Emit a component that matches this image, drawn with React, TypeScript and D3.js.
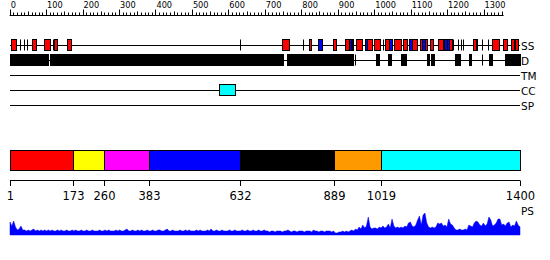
import React from "react";
import * as d3 from "d3";

const SEQ_LENGTH = 1400;
const RULER_LABELS = [0, 100, 200, 300, 400, 500, 600, 700, 800, 900, 1000, 1100, 1200, 1300];
const TRACK_NAMES = ["SS", "D", "TM", "CC", "SP"];

// secondary structure: helices (red), strands (blue), tiny elements (ticks)
const SS_HELIX: [number, number][] = [
  [4, 17], [60, 72], [95, 110], [122, 131], [156, 167],
  [748, 767], [822, 828], [888, 895], [921, 931], [950, 966], [981, 993],
  [1000, 1016], [1030, 1041], [1054, 1074], [1080, 1091], [1104, 1117],
  [1127, 1132], [1139, 1145], [1153, 1162], [1176, 1189], [1206, 1213],
  [1270, 1278], [1279, 1283], [1322, 1343], [1354, 1363], [1374, 1384], [1385, 1395],
];
const SS_STRAND: [number, number][] = [
  [845, 856], [931, 937], [938, 943], [975, 981], [1041, 1048], [1096, 1104],
  [1132, 1139], [1192, 1199], [1199, 1206],
];
const SS_TICKS = [28, 39, 48, 118, 632, 804, 1023, 1216, 1229, 1237, 1243, 1297, 1312];

const DISORDER: [number, number][] = [
  [1, 106], [111, 749], [760, 941], [1005, 1014], [1039, 1045], [1074, 1087],
  [1146, 1151], [1157, 1164], [1222, 1236], [1260, 1266], [1315, 1322],
  [1359, 1374], [1375, 1400],
];
const DISORDER_TICKS = [947, 1297];

const COILED_COIL: [number, number][] = [[575, 618]];

const DOMAIN_BOUNDS = [1, 173, 260, 383, 632, 889, 1019, 1400];
const DOMAIN_COLORS = ["#ff0000", "#ffff00", "#ff00ff", "#0000ff", "#000000", "#ff9900", "#00ffff"];

// PS profile, one value per 5 residues
const PS_VALUES = [
  13, 9, 14, 8, 5, 6, 9, 5, 5, 4, 5, 4, 5, 6, 4, 5, 4, 5, 4, 5,
  4, 5, 4, 5, 4, 4, 5, 4, 5, 4, 4, 5, 4, 4, 5, 4, 5, 4, 4, 5,
  4, 4, 5, 4, 4, 5, 4, 4, 4, 5, 4, 4, 5, 4, 5, 4, 4, 4, 5, 4,
  5, 4, 4, 5, 6, 4, 4, 5, 4, 4, 5, 4, 5, 4, 4, 5, 4, 4, 5, 4,
  4, 5, 5, 4, 4, 5, 6, 4, 4, 5, 4, 4, 4, 5, 4, 4, 5, 4, 5, 4,
  4, 4, 5, 4, 5, 4, 4, 4, 5, 4, 6, 4, 4, 5, 4, 4, 5, 4, 4, 4,
  5, 4, 4, 5, 4, 4, 4, 5, 4, 4, 5, 4, 4, 5, 4, 4, 5, 4, 4, 5,
  4, 4, 3, 4, 4, 3, 4, 4, 4, 3, 4, 4, 5, 4, 3, 4, 4, 3, 4, 4,
  4, 3, 4, 4, 4, 3, 5, 4, 4, 3, 4, 4, 3, 4, 4, 4, 3, 4, 2, 2,
  3, 3, 4, 3, 4, 3, 4, 5, 4, 6, 5, 8, 6, 10, 7, 9, 18, 8, 6, 7,
  7, 6, 8, 7, 9, 7, 8, 11, 7, 16, 9, 7, 8, 7, 8, 7, 9, 8, 12, 13,
  9, 8, 10, 15, 19, 10, 20, 22, 12, 8, 7, 8, 7, 8, 12, 11, 12, 9, 10, 8,
  16, 11, 10, 7, 5, 5, 6, 5, 5, 6, 5, 10, 9, 8, 12, 14, 13, 10, 9, 12,
  9, 11, 18, 15, 9, 10, 12, 16, 16, 10, 11, 9, 12, 13, 8, 10, 9, 14, 10, 8,
];

const FONT = "DejaVu Sans, Verdana, sans-serif";

export default function App() {
  const x = d3.scaleLinear().domain([1, SEQ_LENGTH]).range([10, 520]);
  const trackY = d3.scalePoint<string>().domain(TRACK_NAMES).range([45, 105]);
  const psY = d3.scaleLinear().domain([0, 25]).range([235, 210]);
  const psX = d3.scaleLinear().domain([0, PS_VALUES.length - 1]).range([x(1), x(SEQ_LENGTH)]);
  const area = d3
    .area<number>()
    .x((_, i) => psX(i))
    .y0(psY(0))
    .y1((d) => psY(d))
    .curve(d3.curveLinear);

  const minorTicks = d3.range(0, 1360, 10);
  const boxH = 11;

  const box = (s: number, e: number, track: string, fill: string, key: string) => {
    const x0 = Math.round(x(s)) + 0.5;
    const x1 = Math.round(x(e)) + 0.5;
    const y = trackY(track)!;
    return (
      <rect key={key} x={x0} y={y - boxH / 2} width={Math.max(1, x1 - x0)} height={boxH}
        fill={fill} stroke="#000" strokeWidth={1} />
    );
  };
  const tick = (r: number, track: string, key: string) => {
    const xx = Math.round(x(r)) + 0.5;
    const y = trackY(track)!;
    return <line key={key} x1={xx} x2={xx} y1={y - boxH / 2} y2={y + boxH / 2} stroke="#000" />;
  };

  return (
    <div style={{ position: "absolute", left: 0, top: 0 }}>
      <svg width={550} height={260} style={{ display: "block", background: "#fff" }}>
        {/* ruler */}
        <line x1={x(0)} x2={x(1355)} y1={15.5} y2={15.5} stroke="#000" />
        {minorTicks.map((t) => {
          const xx = Math.round(x(t)) + 0.5;
          const len = t % 100 === 0 ? 6 : t % 50 === 0 ? 4 : 3;
          return <line key={"m" + t} x1={xx} x2={xx} y1={15.5 - len} y2={15.5} stroke="#000" />;
        })}
        {RULER_LABELS.map((t) => (
          <text key={"rl" + t} x={x(t) + 1} y={8} fontFamily={FONT} fontSize={8.2} fill="#000">
            {t}
          </text>
        ))}

        {/* tracks */}
        {TRACK_NAMES.map((n) => (
          <g key={n}>
            <line x1={10} x2={520} y1={trackY(n)! + 0.5} y2={trackY(n)! + 0.5} stroke="#000" />
            <text x={521} y={trackY(n)! + 4.5} fontFamily={FONT} fontSize={10.5} fill="#000">
              {n}
            </text>
          </g>
        ))}
        {SS_TICKS.map((r, i) => tick(r, "SS", "st" + i))}
        {SS_HELIX.map(([s, e], i) => box(s, e, "SS", "#ff0000", "h" + i))}
        {SS_STRAND.map(([s, e], i) => box(s, e, "SS", "#0000ff", "e" + i))}
        {DISORDER.map(([s, e], i) => box(s, e, "D", "#000", "d" + i))}
        {DISORDER_TICKS.map((r, i) => tick(r, "D", "dt" + i))}
        {COILED_COIL.map(([s, e], i) => box(s, e, "CC", "#00ffff", "c" + i))}

        {/* domains */}
        {DOMAIN_COLORS.map((c, i) => {
          const x0 = Math.round(x(DOMAIN_BOUNDS[i])) + 0.5;
          const x1 = Math.round(x(DOMAIN_BOUNDS[i + 1])) + 0.5;
          return <rect key={"dom" + i} x={x0} y={150.5} width={x1 - x0} height={20} fill={c} stroke="#000" />;
        })}
        <line x1={x(1)} x2={x(SEQ_LENGTH)} y1={180.5} y2={180.5} stroke="#000" />
        {DOMAIN_BOUNDS.map((b) => {
          const xx = Math.round(x(b)) + 0.5;
          return (
            <g key={"db" + b}>
              <line x1={xx} x2={xx} y1={180.5} y2={186} stroke="#000" />
              <text x={xx} y={200} textAnchor="middle" fontFamily={FONT} fontSize={11.5} fill="#000">
                {b}
              </text>
            </g>
          );
        })}

        {/* PS profile */}
        <text x={521} y={215} fontFamily={FONT} fontSize={10.5} fill="#000">PS</text>
        <path d={area(PS_VALUES)!} fill="#0000ff" stroke="#0000ff" strokeWidth={0.5} />
      </svg>
    </div>
  );
}
